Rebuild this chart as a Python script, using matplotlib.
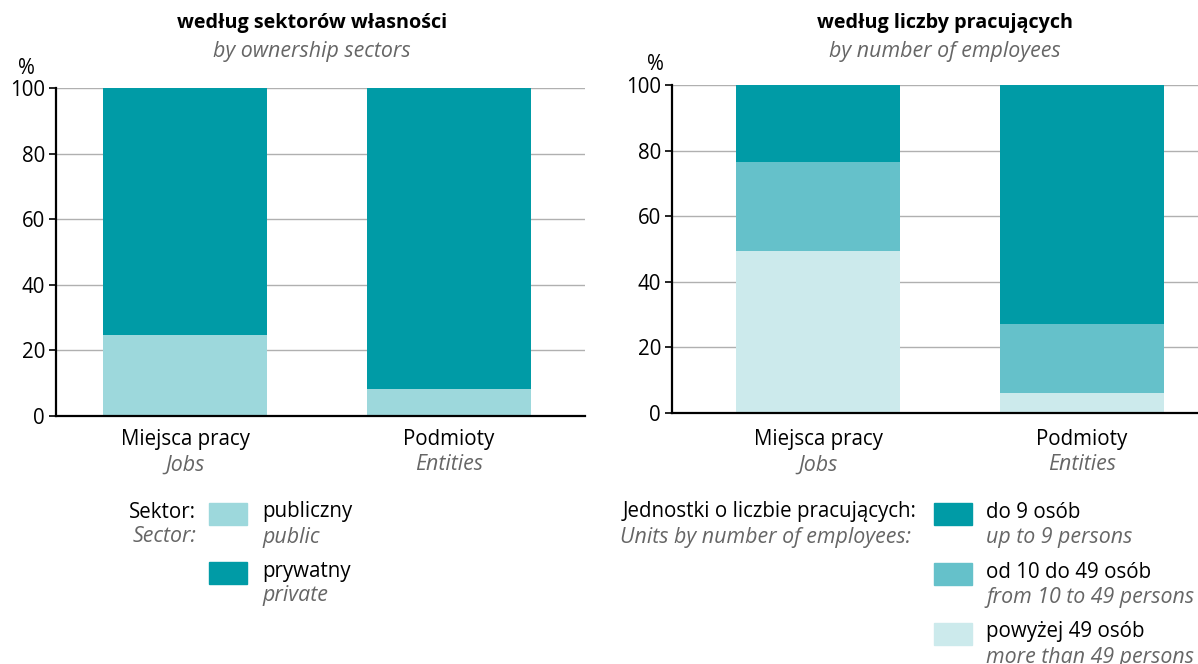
import numpy as np
import matplotlib
matplotlib.use("Agg")
import matplotlib.pyplot as plt
from matplotlib.patches import Rectangle

plt.rcParams['font.family'] = ['Open Sans', 'DejaVu Sans']

# data
categories_pl = ['Miejsca pracy', 'Podmioty']
categories_en = ['Jobs', 'Entities']

sector_pl = ['publiczny', 'prywatny']
sector_en = ['public', 'private']
sector_public = [24.8, 8.3]
sector_private = [75.2, 91.7]

size_pl = ['do 9 osób', 'od 10 do 49 osób', 'powyżej 49 osób']
size_en = ['up to 9 persons', 'from 10 to 49 persons', 'more than 49 persons']
size_over49 = [49.4, 6.2]
size_10_49 = [27.1, 21.0]
size_upto9 = [23.5, 72.8]

yticks = [0, 20, 40, 60, 80, 100]

DARK = '#009ba6'
MID = '#65c1ca'
PUB = '#9dd8dc'
LIGHT = '#cceaec'
GRAY = '#666666'

FS = 14.8     # regular text
FSI = 15.4    # italic text

W, H = 1198, 664
fig = plt.figure(figsize=(W / 100, H / 100), dpi=100)


def px(x, y):
    return x / W, 1 - y / H


def txt(x, y, s, **kw):
    fx, fy = px(x, y)
    kw.setdefault('va', 'center')
    kw.setdefault('fontsize', FS)
    fig.text(fx, fy, s, **kw)


def itxt(x, y, s, **kw):
    txt(x, y, s, style='italic', color=GRAY, fontsize=FSI, **kw)


def swatch(x, y, color):
    fx, fy = px(x, y + 22)
    fig.patches.append(Rectangle((fx, fy), 38 / W, 22 / H, transform=fig.transFigure,
                                 color=color, zorder=3))


def make_axes(left, right, y0, center0):
    ax = fig.add_axes([left / W, 1 - y0 / H, (right - left) / W, 328 / H])
    ax.set_ylim(0, 100)
    ax.set_xlim(-(center0 - left) / 264, (right - center0) / 264)
    ax.set_yticks(yticks)
    ax.tick_params(axis='y', length=5, width=1.2, labelsize=FS, pad=3)
    ax.tick_params(axis='x', length=0, labelbottom=False)
    ax.grid(axis='y', color='#b0b0b0', lw=1)
    ax.set_axisbelow(True)
    for s in ['top', 'right']:
        ax.spines[s].set_visible(False)
    for s in ['left', 'bottom']:
        ax.spines[s].set_linewidth(1.6)
    return ax


x = np.arange(len(categories_pl))
bw = 0.62

# left panel
ax1 = make_axes(56, 585, 416, 185)
ax1.bar(x, sector_public, bw, color=PUB, zorder=2)
ax1.bar(x, sector_private, bw, bottom=sector_public, color=DARK, zorder=2)

# right panel
ax2 = make_axes(672, 1198, 413, 818)
ax2.bar(x, size_over49, bw, color=LIGHT, zorder=2)
ax2.bar(x, size_10_49, bw, bottom=size_over49, color=MID, zorder=2)
ax2.bar(x, size_upto9, bw, bottom=np.add(size_over49, size_10_49), color=DARK, zorder=2)

# category labels
for ax in [ax1, ax2]:
    for i in x:
        xd = ax.transData.transform((i, 0))[0]
        txt(xd, 440, categories_pl[i], ha='center')
        itxt(xd, 465, categories_en[i], ha='center')

# titles
txt(312, 23, 'według sektorów własności', ha='center', fontweight='bold', fontsize=14.2)
itxt(312, 51, 'by ownership sectors', ha='center')
txt(945, 23, 'według liczby pracujących', ha='center', fontweight='bold', fontsize=14.2)
itxt(945, 51, 'by number of employees', ha='center')
txt(26, 68, '%', ha='center')
txt(655, 65, '%', ha='center')

# legend left
txt(196, 512, 'Sektor:', ha='right')
itxt(196, 537, 'Sector:', ha='right')
for i, c in enumerate([PUB, DARK]):
    y = 503 + i * 59
    swatch(209, y, c)
    txt(262, y + 9, sector_pl[i])
    itxt(262, y + 34, sector_en[i])

# legend right
txt(917, 512, 'Jednostki o liczbie pracujących:', ha='right')
itxt(911, 537, 'Units by number of employees:', ha='right')
for i, c in enumerate([DARK, MID, LIGHT]):
    y = 503 + i * 60
    swatch(934, y, c)
    txt(986, y + 9, size_pl[i])
    itxt(986, y + 34, size_en[i])

fig.savefig('out.png', dpi=100)
